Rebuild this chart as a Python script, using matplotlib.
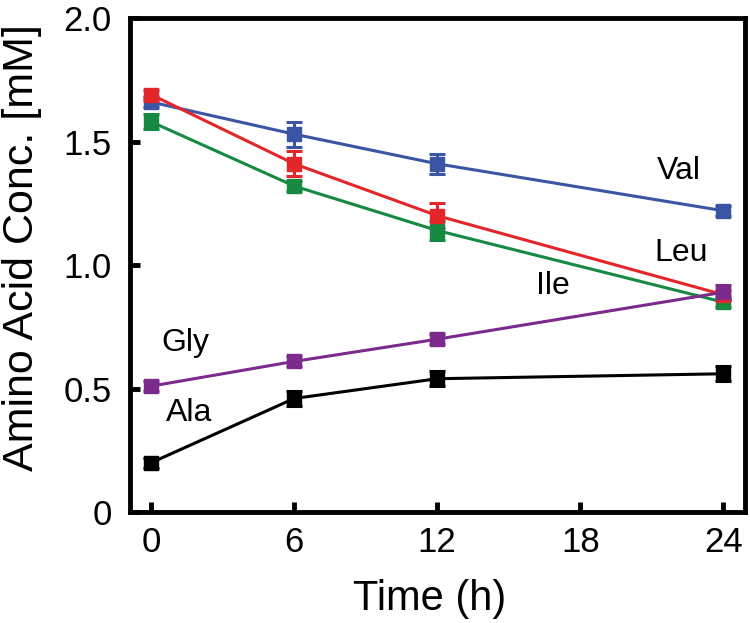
import numpy as np
import matplotlib.pyplot as plt

plt.rcParams['font.family'] = ['Liberation Sans', 'DejaVu Sans']

time_h = [0, 6, 12, 24]

val = [1.66, 1.53, 1.41, 1.22]
val_err = [0.02, 0.05, 0.04, 0.02]
leu = [1.69, 1.41, 1.20, 0.88]
leu_err = [0.02, 0.05, 0.05, 0.02]
ile = [1.58, 1.32, 1.14, 0.85]
ile_err = [0.03, 0.02, 0.04, 0.02]
gly = [0.51, 0.61, 0.70, 0.89]
gly_err = [0.02, 0.02, 0.02, 0.03]
ala = [0.20, 0.46, 0.54, 0.56]
ala_err = [0.02, 0.03, 0.03, 0.03]

# name, values, errors, colour, label position (data coords)
series = [
    ('Val', val, val_err, '#3a55a4', (22.15, 1.38)),
    ('Ile', ile, ile_err, '#168a40', (16.85, 0.915)),
    ('Leu', leu, leu_err, '#e3262a', (22.25, 1.05)),
    ('Gly', gly, gly_err, '#7c2a8b', (1.45, 0.685)),
    ('Ala', ala, ala_err, '#000000', (1.6, 0.40)),
]

fig = plt.figure(figsize=(7.5, 6.23), dpi=100)
ax = fig.add_axes([0.173, 0.178, 0.82, 0.793])

for name, y, err, color, _ in series:
    ax.errorbar(time_h, y, yerr=err, color=color, marker='s', markersize=10,
                linewidth=2.2, elinewidth=2.2, capsize=5.5, capthick=2.2)

for name, y, err, color, pos in series:
    ax.text(pos[0], pos[1], name, fontsize=23, ha='center', va='center')

ax.set_xlim(-0.9, 24.9)
ax.set_ylim(0, 2.0)
ax.set_xticks([0, 6, 12, 18, 24])
ax.set_yticks([0, 0.5, 1.0, 1.5, 2.0])
ax.set_yticklabels(['0', '0.5', '1.0', '1.5', '2.0'])
ax.tick_params(direction='in', width=3.5, length=7, labelsize=25, pad=10)
ax.tick_params(axis='y', pad=13)
for s in ax.spines.values():
    s.set_linewidth(3.5)

ax.set_xlabel('Time (h)', fontsize=30)
ax.set_ylabel('Amino Acid Conc. [mM]', fontsize=31)
ax.xaxis.set_label_coords(0.487, -0.135)
ax.yaxis.set_label_coords(-0.143, 0.535)

plt.savefig('out.png', dpi=100)
